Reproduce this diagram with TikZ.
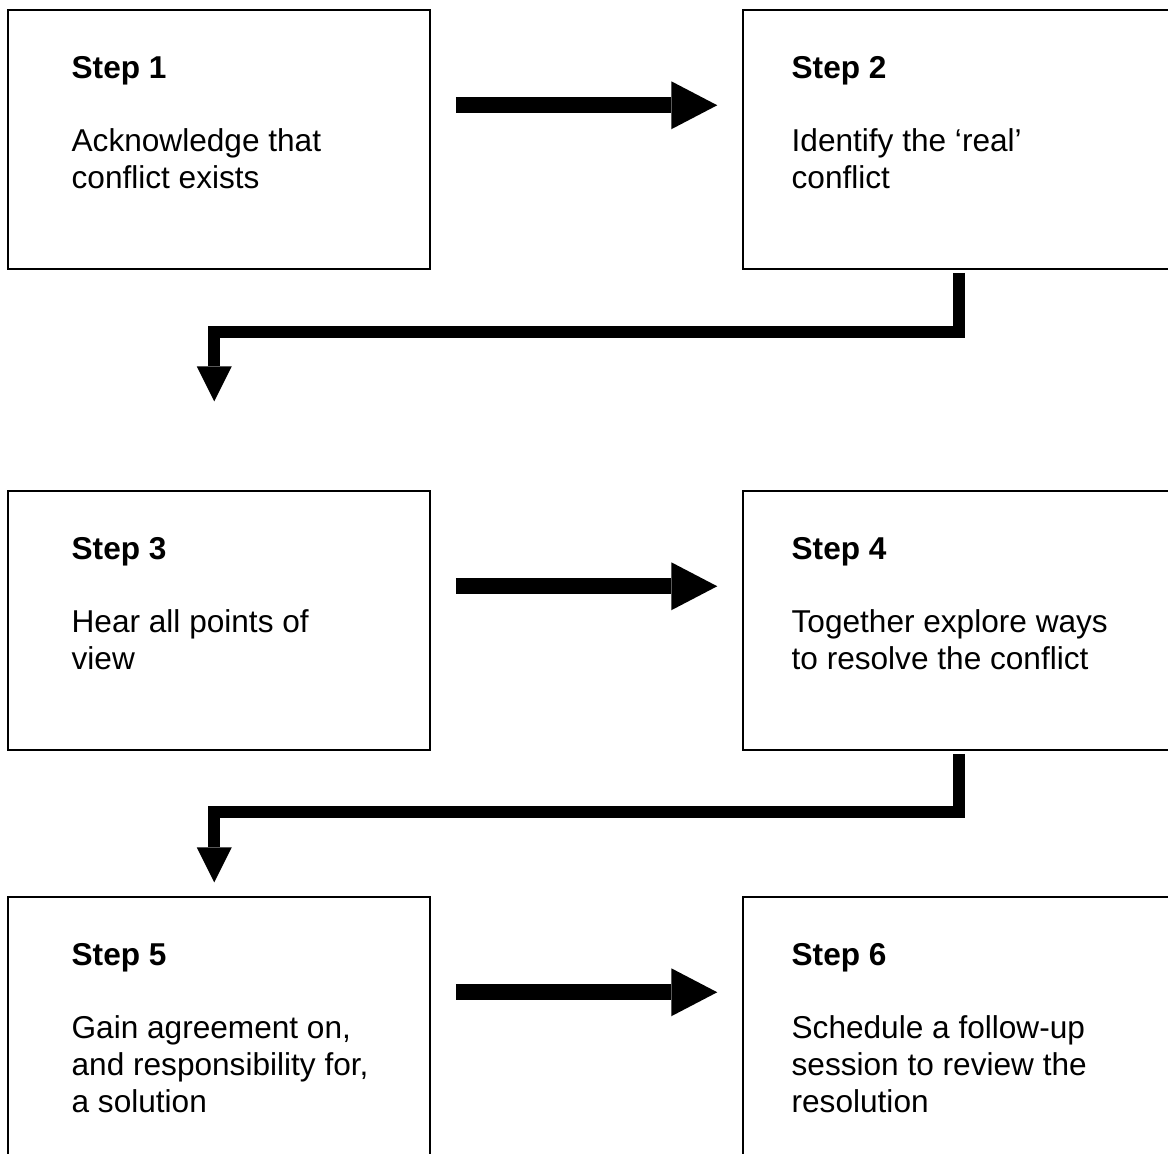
\documentclass[tikz,border=0pt]{standalone}
\usepackage{fontspec}
\setmainfont{Liberation Sans}
\usetikzlibrary{arrows.meta,calc}
\begin{document}
\begin{tikzpicture}[x=0.5pt,y=-0.5pt,
  boxl/.style={draw,line width=0.75pt,minimum width=211pt,minimum height=129.5pt,inner sep=0pt},
  boxr/.style={boxl,minimum width=216pt},
  steptitle/.style={anchor=north west,inner sep=0pt,font=\fontsize{15.8pt}{18.5pt}\selectfont\bfseries},
  stepbody/.style={anchor=north west,inner sep=0pt,align=left,font=\fontsize{15.8pt}{18.5pt}\selectfont},
  harrow/.style={line width=8pt,-{Triangle[length=23pt,width=24pt,line width=0pt]}},
  earrow/.style={line width=6pt,line join=miter,-{Triangle[length=17.5pt,width=17.5pt,line width=0pt]}}]
\fill[white] (0,0) rectangle (1168,1153);
\useasboundingbox (0,0) rectangle (1168,1153);

\node[boxl] (b1) at (219,139.5) {};
\node[boxr] (b2) at (959,139.5) {};
\node[boxl] (b3) at (219,620.5) {};
\node[boxr] (b4) at (959,620.5) {};
\node[boxl] (b5) at (219,1026.5) {};
\node[boxr] (b6) at (959,1026.5) {};

\node[steptitle] (t1) at ($(b1.north west)+(64,45)$) {\rule{0pt}{12pt}Step 1};
\node[stepbody] (d1) at ($(b1.north west)+(64,118)$) {\rule{0pt}{12pt}Acknowledge that\\conflict exists};
\node[steptitle] (t2) at ($(b2.north west)+(49,45)$) {\rule{0pt}{12pt}Step 2};
\node[stepbody] (d2) at ($(b2.north west)+(49,118)$) {\rule{0pt}{12pt}Identify the ‘real’\\conflict};
\node[steptitle] (t3) at ($(b3.north west)+(64,45)$) {\rule{0pt}{12pt}Step 3};
\node[stepbody] (d3) at ($(b3.north west)+(64,118)$) {\rule{0pt}{12pt}Hear all points of\\view};
\node[steptitle] (t4) at ($(b4.north west)+(49,45)$) {\rule{0pt}{12pt}Step 4};
\node[stepbody] (d4) at ($(b4.north west)+(49,118)$) {\rule{0pt}{12pt}Together explore ways\\to resolve the conflict};
\node[steptitle] (t5) at ($(b5.north west)+(64,45)$) {\rule{0pt}{12pt}Step 5};
\node[stepbody] (d5) at ($(b5.north west)+(64,118)$) {\rule{0pt}{12pt}Gain agreement on,\\and responsibility for,\\a solution};
\node[steptitle] (t6) at ($(b6.north west)+(49,45)$) {\rule{0pt}{12pt}Step 6};
\node[stepbody] (d6) at ($(b6.north west)+(49,118)$) {\rule{0pt}{12pt}Schedule a follow-up\\session to review the\\resolution};

\draw[harrow] ($(b1.north east)+(25,96)$) -- ($(b2.north west)+(-25,96)$);
\draw[harrow] ($(b3.north east)+(25,96)$) -- ($(b4.north west)+(-25,96)$);
\draw[harrow] ($(b5.north east)+(25,96)$) -- ($(b6.north west)+(-25,96)$);

\coordinate (c1) at ($(b3.north west)+(207,-89)$);
\coordinate (c2) at ($(b5.north west)+(207,-14)$);
\draw[earrow] ([yshift=-1.5pt]b2.south) -- ++(0,59) -| (c1);
\draw[earrow] ([yshift=-1.5pt]b4.south) -- ++(0,58) -| (c2);
\end{tikzpicture}
\end{document}
